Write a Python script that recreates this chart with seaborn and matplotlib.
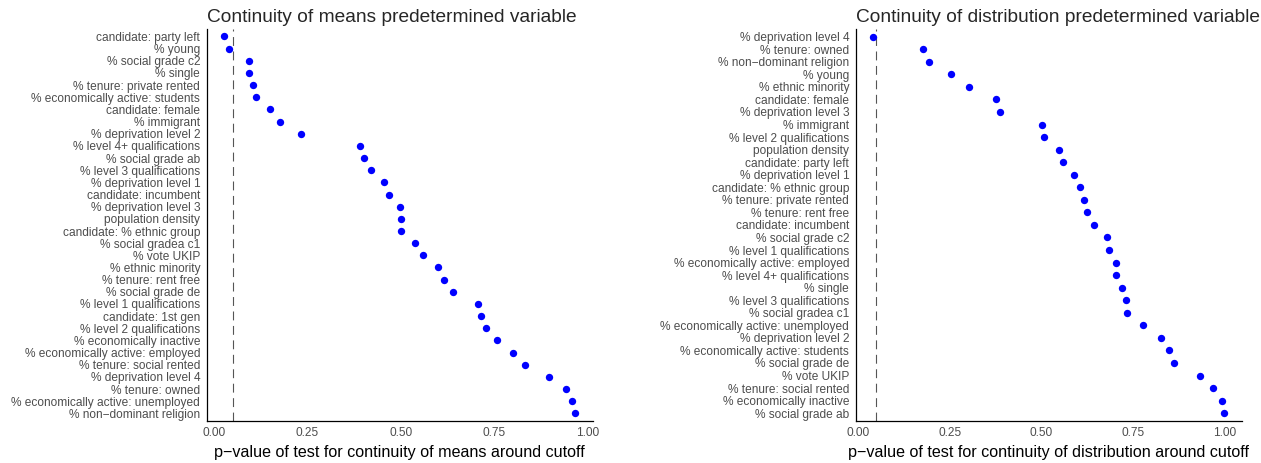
"""
Dot plots of p-values from continuity tests of predetermined variables
around the cutoff: continuity of means (left) and of distribution (right).
"""

import matplotlib
matplotlib.use("Agg")
import matplotlib.pyplot as plt
import seaborn as sns
import pandas as pd

# ---- data ----
means_vars = [
    "candidate: party left", "% young", "% social grade c2", "% single",
    "% tenure: private rented", "% economically active: students",
    "candidate: female", "% immigrant", "% deprivation level 2",
    "% level 4+ qualifications", "% social grade ab", "% level 3 qualifications",
    "% deprivation level 1", "candidate: incumbent", "% deprivation level 3",
    "population density", "candidate: % ethnic group", "% social gradea c1",
    "% vote UKIP", "% ethnic minority", "% tenure: rent free",
    "% social grade de", "% level 1 qualifications", "candidate: 1st gen",
    "% level 2 qualifications", "% economically inactive",
    "% economically active: employed", "% tenure: social rented",
    "% deprivation level 4", "% tenure: owned",
    "% economically active: unemployed", "% non\u2212dominant religion",
]
means_pvals = [
    0.027, 0.040, 0.093, 0.093, 0.103, 0.112, 0.149, 0.176, 0.233,
    0.392, 0.401, 0.421, 0.456, 0.468, 0.498, 0.501, 0.501, 0.539,
    0.559, 0.601, 0.615, 0.641, 0.707, 0.715, 0.728, 0.759, 0.802,
    0.833, 0.898, 0.942, 0.960, 0.968,
]

dist_vars = [
    "% deprivation level 4", "% tenure: owned", "% non\u2212dominant religion",
    "% young", "% ethnic minority", "candidate: female",
    "% deprivation level 3", "% immigrant", "% level 2 qualifications",
    "population density", "candidate: party left", "% deprivation level 1",
    "candidate: % ethnic group", "% tenure: private rented",
    "% tenure: rent free", "candidate: incumbent", "% social grade c2",
    "% level 1 qualifications", "% economically active: employed",
    "% level 4+ qualifications", "% single", "% level 3 qualifications",
    "% social gradea c1", "% economically active: unemployed",
    "% deprivation level 2", "% economically active: students",
    "% social grade de", "% vote UKIP", "% tenure: social rented",
    "% economically inactive", "% social grade ab",
]
dist_pvals = [
    0.042, 0.178, 0.195, 0.254, 0.302, 0.376, 0.388, 0.503, 0.508,
    0.548, 0.558, 0.589, 0.605, 0.615, 0.625, 0.644, 0.680, 0.683,
    0.702, 0.704, 0.721, 0.730, 0.732, 0.776, 0.826, 0.849, 0.862,
    0.932, 0.967, 0.993, 0.998,
]

CUTOFF = 0.05
x_ticks = [0.0, 0.25, 0.5, 0.75, 1.0]
x_ticklabels = ["0.00", "0.25", "0.50", "0.75", "1.00"]


def draw_panel(ax, labels, pvals, title, xlabel):
    df = pd.DataFrame({"variable": labels, "pvalue": pvals})
    sns.stripplot(data=df, x="pvalue", y="variable", order=labels,
                  jitter=False, color="#0000FF", size=5.3, linewidth=0,
                  ax=ax, zorder=3)
    ax.axvline(CUTOFF, color="#555555", lw=0.8, ls=(0, (8, 5)), zorder=2)

    # ggplot-like expansion: 5% continuous, 0.6 units discrete
    lo, hi = min(pvals + [CUTOFF]), max(pvals + [CUTOFF])
    pad = 0.05 * (hi - lo)
    ax.set_xlim(lo - pad, hi + pad)
    ax.set_ylim(len(labels) - 1 + 0.6, -0.6)

    ax.set_xticks(x_ticks)
    ax.set_xticklabels(x_ticklabels)
    ax.set_ylabel("")
    ax.set_xlabel(xlabel, fontsize=11.6, color="black", labelpad=4)
    ax.set_title(title, loc="left", fontsize=13.8, pad=5)

    ax.tick_params(axis="both", labelsize=8.6, labelcolor="#4D4D4D",
                   color="#333333", length=2.9, width=0.6, pad=1.8)
    for side in ["top", "right"]:
        ax.spines[side].set_visible(False)
    for side in ["left", "bottom"]:
        ax.spines[side].set_linewidth(0.9)
        ax.spines[side].set_color("black")
    ax.grid(False)


def main():
    sns.set_style("white")
    plt.rcParams["font.family"] = ["Liberation Sans", "DejaVu Sans"]

    fig = plt.figure(figsize=(12.61, 4.63), dpi=100)
    ax_left = fig.add_axes([0.1639, 0.0914, 0.3063, 0.8456])
    ax_right = fig.add_axes([0.6786, 0.0914, 0.3061, 0.8456])

    draw_panel(ax_left, means_vars, means_pvals,
               "Continuity of means predetermined variable",
               "p\u2212value of test for continuity of means around cutoff")
    draw_panel(ax_right, dist_vars, dist_pvals,
               "Continuity of distribution predetermined variable",
               "p\u2212value of test for continuity of distribution around cutoff")

    fig.savefig("out.png", dpi=100)


if __name__ == "__main__":
    main()
